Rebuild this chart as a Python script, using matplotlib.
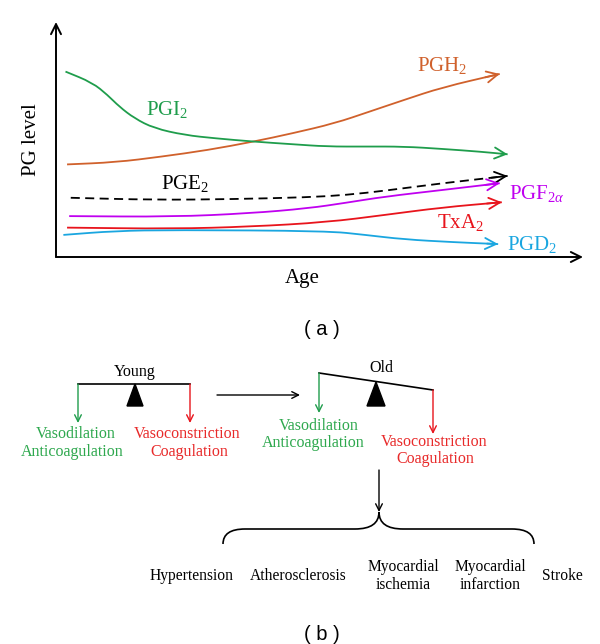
import matplotlib
matplotlib.use("Agg")
import matplotlib.pyplot as plt
from matplotlib.path import Path
from matplotlib.patches import PathPatch, Polygon

plt.rcParams['font.family'] = ['Liberation Serif', 'DejaVu Serif']
plt.rcParams['mathtext.fontset'] = 'custom'
plt.rcParams['mathtext.rm'] = 'Liberation Serif'
plt.rcParams['mathtext.it'] = 'Liberation Serif:italic'

# Panel (a): PG level vs age (age 0-100, level 0-100)
pgi2_age = [1.8, 6.9, 9.8, 12.0, 14.9, 18.6, 24.4, 30.2, 37.5, 44.8, 51.4, 58.7, 66.0, 73.3, 80.6, 85.7]
pgi2_lvl = [78.9, 74.2, 68.9, 64.0, 59.0, 54.8, 51.9, 50.5, 49.1, 48.0, 47.0, 47.0, 47.0, 46.0, 44.8, 43.7]
pgh2_age = [2.1, 11.3, 20.0, 28.8, 37.5, 44.8, 52.9, 59.4, 66.0, 73.3, 84.2]
pgh2_lvl = [39.4, 40.3, 42.7, 45.5, 49.1, 52.6, 56.9, 61.8, 66.8, 72.2, 77.9]
pge2_age = [2.8, 18.6, 33.2, 47.8, 55.1, 62.4, 73.3, 85.7]
pge2_lvl = [25.2, 24.3, 24.6, 25.4, 26.4, 28.2, 31.4, 34.5]
pgf2a_age = [2.5, 22.2, 36.8, 47.8, 55.1, 62.4, 73.3, 84.2]
pgf2a_lvl = [17.4, 17.1, 18.6, 20.7, 23.1, 25.7, 28.5, 31.4]
txa2_age = [2.1, 22.2, 36.8, 51.4, 62.4, 73.3, 84.6]
txa2_lvl = [12.5, 12.0, 12.9, 14.8, 17.9, 21.1, 23.3]
pgd2_age = [1.4, 11.3, 22.2, 51.4, 58.7, 66.0, 75.5, 83.9]
pgd2_lvl = [9.4, 11.1, 11.5, 11.1, 9.4, 7.5, 6.3, 5.5]

curve_labels = ['PGH$_2$', 'PGI$_2$', 'PGE$_2$', 'PGF$_{2\\alpha}$', 'TxA$_2$', 'PGD$_2$']
label_pos = [(73.2, 81.7), (21.1, 62.6), (24.5, 31.1), (91.3, 27.2), (76.8, 14.5), (90.3, 5.5)]

# Panel (b) texts
young_left = ['Vasodilation', 'Anticoagulation']
young_right = ['Vasoconstriction', 'Coagulation']
diseases = ['Hypertension', 'Atherosclerosis', 'Myocardial\nischemia', 'Myocardial\ninfarction', 'Stroke']
disease_x = [192, 298, 403, 490, 562]

GREEN = '#1f9d4c'
RED = '#e8141c'
ORANGE = '#d0612c'
PURPLE = '#c000f0'
CYAN = '#1aa6e0'
TGREEN = '#2ea84e'
TRED = '#e82a2a'


def smooth_path(xs, ys):
    # quadratic B-spline style path using the read points as control points
    pts = list(zip(xs, ys))
    verts = [pts[0]]
    codes = [Path.MOVETO]
    mid = ((pts[0][0] + pts[1][0]) / 2, (pts[0][1] + pts[1][1]) / 2)
    verts.append(mid)
    codes.append(Path.LINETO)
    for i in range(1, len(pts) - 1):
        nxt = ((pts[i][0] + pts[i + 1][0]) / 2, (pts[i][1] + pts[i + 1][1]) / 2)
        verts += [pts[i], nxt]
        codes += [Path.CURVE3, Path.CURVE3]
    verts.append(pts[-1])
    codes.append(Path.LINETO)
    return Path(verts, codes)


fig = plt.figure(figsize=(6.0, 6.44), dpi=100)

# full-figure canvas for the schematic part, in pixels
bg = fig.add_axes([0, 0, 1, 1])
bg.set_xlim(0, 600)
bg.set_ylim(644, 0)
bg.axis('off')

ax = fig.add_axes([56 / 600, 1 - 257 / 644, 527 / 600, 235 / 644])
ax.set_xlim(0, 100)
ax.set_ylim(0, 100)
ax.axis('off')

axis_kw = dict(arrowstyle='->', shrinkA=0, shrinkB=0, mutation_scale=18)
ax.annotate('', xy=(0, 1), xytext=(0, 0), xycoords='axes fraction',
            arrowprops=dict(color='black', lw=1.4, **axis_kw))
ax.annotate('', xy=(1, 0), xytext=(0, 0), xycoords='axes fraction',
            arrowprops=dict(color='black', lw=1.4, **axis_kw))

series = [
    (pgh2_age, pgh2_lvl, ORANGE, '-'),
    (pgi2_age, pgi2_lvl, GREEN, '-'),
    (pge2_age, pge2_lvl, 'black', (0, (5, 3))),
    (pgf2a_age, pgf2a_lvl, PURPLE, '-'),
    (txa2_age, txa2_lvl, RED, '-'),
    (pgd2_age, pgd2_lvl, CYAN, '-'),
]
head_kw = dict(arrowstyle='->', shrinkA=0, shrinkB=0, mutation_scale=20)
for (xs, ys, c, ls), lab, pos in zip(series, curve_labels, label_pos):
    ax.add_patch(PathPatch(smooth_path(xs, ys), fill=False, edgecolor=c, lw=1.3, ls=ls,
                           capstyle='butt'))
    # head only: start from the point where the path's last straight piece begins
    tail = ((xs[-2] + xs[-1]) / 2, (ys[-2] + ys[-1]) / 2)
    tail = ((tail[0] + xs[-1]) / 2, (tail[1] + ys[-1]) / 2)
    ax.annotate('', xy=(xs[-1], ys[-1]), xytext=tail,
                arrowprops=dict(color=c, lw=1.3, **head_kw))
    ax.text(pos[0], pos[1], lab, color=c, fontsize=15, ha='center', va='center')

bg.text(31, 140, 'PG level', rotation=90, fontsize=15, ha='center', va='center')
bg.text(302, 278, 'Age', fontsize=15, ha='center', va='center')
bg.text(322, 329, '( a )', fontsize=14.5, ha='center', va='center', family='Liberation Sans')

# ---- panel (b) ----
down = dict(arrowstyle='->', shrinkA=0, shrinkB=0, mutation_scale=12, lw=1.0)
fs = 11.5

# young balance
bg.plot([78, 190], [384, 384], color='black', lw=1.2)
bg.add_patch(Polygon([(135, 384), (127, 406), (143, 406)], closed=True, color='black'))
bg.annotate('', xy=(78, 423), xytext=(78, 384), arrowprops=dict(color=GREEN, **down))
bg.annotate('', xy=(190, 423), xytext=(190, 384), arrowprops=dict(color=RED, **down))
bg.text(135, 372, 'Young', fontsize=fs, ha='center', va='center')
bg.text(76, 434, young_left[0], color=TGREEN, fontsize=fs, ha='center', va='center')
bg.text(72, 452, young_left[1], color=TGREEN, fontsize=fs, ha='center', va='center')
bg.text(187, 434, young_right[0], color=TRED, fontsize=fs, ha='center', va='center')
bg.text(189, 452, young_right[1], color=TRED, fontsize=fs, ha='center', va='center')

# transition arrow
bg.annotate('', xy=(300, 395), xytext=(217, 395), arrowprops=dict(color='black', **down))

# old balance (tilted)
bg.plot([319, 433], [373, 390], color='black', lw=1.2)
bg.add_patch(Polygon([(376, 382), (367, 406), (385, 406)], closed=True, color='black'))
bg.annotate('', xy=(319, 413), xytext=(319, 373), arrowprops=dict(color=GREEN, **down))
bg.annotate('', xy=(433, 434), xytext=(433, 390), arrowprops=dict(color=RED, **down))
bg.text(381, 368, 'Old', fontsize=fs, ha='center', va='center')
bg.text(319, 426, young_left[0], color=TGREEN, fontsize=fs, ha='center', va='center')
bg.text(313, 443, young_left[1], color=TGREEN, fontsize=fs, ha='center', va='center')
bg.text(434, 442, young_right[0], color=TRED, fontsize=fs, ha='center', va='center')
bg.text(435, 459, young_right[1], color=TRED, fontsize=fs, ha='center', va='center')

# arrow down to the brace
bg.annotate('', xy=(379, 512), xytext=(379, 470), arrowprops=dict(color='black', **down))

# curly brace
verts = [(223, 544), (223, 529), (245, 529),
         (355, 529),
         (379, 529), (379, 512),
         (379, 529), (403, 529),
         (512, 529),
         (534, 529), (534, 544)]
codes = [Path.MOVETO, Path.CURVE3, Path.CURVE3,
         Path.LINETO,
         Path.CURVE3, Path.CURVE3,
         Path.CURVE3, Path.CURVE3,
         Path.LINETO,
         Path.CURVE3, Path.CURVE3]
bg.add_patch(PathPatch(Path(verts, codes), fill=False, lw=1.2, color='black'))

for name, x in zip(diseases, disease_x):
    bg.text(x, 576, name, fontsize=11.2, ha='center', va='center', linespacing=1.2)

bg.text(322, 634, '( b )', fontsize=14.5, ha='center', va='center', family='Liberation Sans')

fig.savefig('out.png', dpi=100)
